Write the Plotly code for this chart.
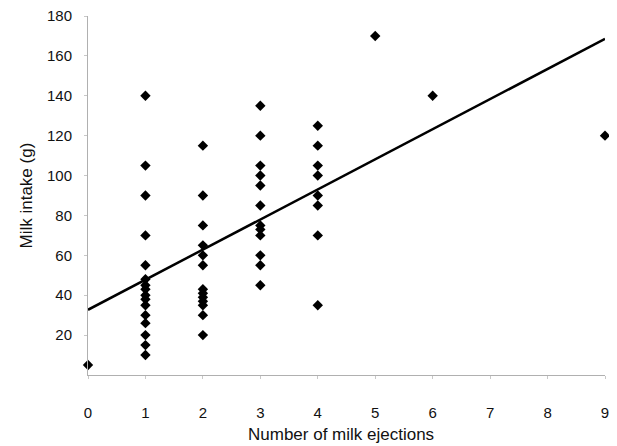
import plotly.graph_objects as go

# Observed data: number of milk ejections vs milk intake (g)
ejections_0 = [0]
intake_0 = [5]
ejections_1 = [1] * 16
intake_1 = [140, 105, 90, 70, 55, 48, 45, 43, 40, 38, 35, 30, 26, 20, 15, 10]
ejections_2 = [2] * 13
intake_2 = [115, 90, 75, 65, 60, 55, 43, 41, 39, 37, 35, 30, 20]
ejections_3 = [3] * 12
intake_3 = [135, 120, 105, 100, 95, 85, 75, 73, 70, 60, 55, 45]
ejections_4 = [4] * 8
intake_4 = [125, 115, 105, 100, 90, 85, 70, 35]
ejections_hi = [5, 6, 9]
intake_hi = [170, 140, 120]

# Trend line endpoints
trend_x = [0, 9]
trend_y = [32.7, 168.5]

x_ticks = [0, 1, 2, 3, 4, 5, 6, 7, 8, 9]
y_ticks = [20, 40, 60, 80, 100, 120, 140, 160, 180]

x_title = "Number of milk ejections"
y_title = "Milk intake (g)"

xs = ejections_0 + ejections_1 + ejections_2 + ejections_3 + ejections_4 + ejections_hi
ys = intake_0 + intake_1 + intake_2 + intake_3 + intake_4 + intake_hi

fig = go.Figure()
fig.add_trace(go.Scatter(
    x=trend_x, y=trend_y, mode="lines",
    line=dict(color="black", width=2.5),
    showlegend=False, hoverinfo="skip", cliponaxis=False,
))
fig.add_trace(go.Scatter(
    x=xs, y=ys, mode="markers",
    marker=dict(symbol="diamond", size=8, color="black"),
    showlegend=False, cliponaxis=False,
))

font_family = "Liberation Sans, Arial, sans-serif"

# the page body adds an 8px offset, so the figure is 8px smaller than the window
fig.update_layout(
    width=609, height=438,
    margin=dict(l=80, r=12, t=8, b=71),
    paper_bgcolor="white", plot_bgcolor="white",
    font=dict(family=font_family, color="#111111"),
    xaxis=dict(
        range=[0, 9], tickvals=x_ticks, ticktext=[str(v) for v in x_ticks],
        showgrid=False, zeroline=False, automargin=False,
        showline=True, linecolor="#b0b0b0", linewidth=1,
        ticks="outside", ticklen=3, tickcolor="#c8c8c8",
        tickfont=dict(size=15, color="#111111"),
        ticklabelstandoff=21, ticklabeloverflow="allow",
    ),
    yaxis=dict(
        range=[0, 180], tickvals=y_ticks, ticktext=[str(v) for v in y_ticks],
        showgrid=False, zeroline=False, automargin=False,
        showline=True, linecolor="#b0b0b0", linewidth=1,
        ticks="outside", ticklen=3, tickcolor="#c8c8c8",
        tickfont=dict(size=15, color="#111111"),
        ticklabelstandoff=9, ticklabeloverflow="allow",
    ),
    annotations=[
        dict(text=x_title, xref="paper", yref="paper", x=0.49, y=-0.167,
             xanchor="center", yanchor="middle", showarrow=False,
             font=dict(size=17, color="#111111")),
        dict(text=y_title, xref="paper", yref="paper", x=-0.118, y=0.5,
             xanchor="center", yanchor="middle", showarrow=False, textangle=-90,
             font=dict(size=17, color="#111111")),
    ],
)

fig.write_html("out.html")
